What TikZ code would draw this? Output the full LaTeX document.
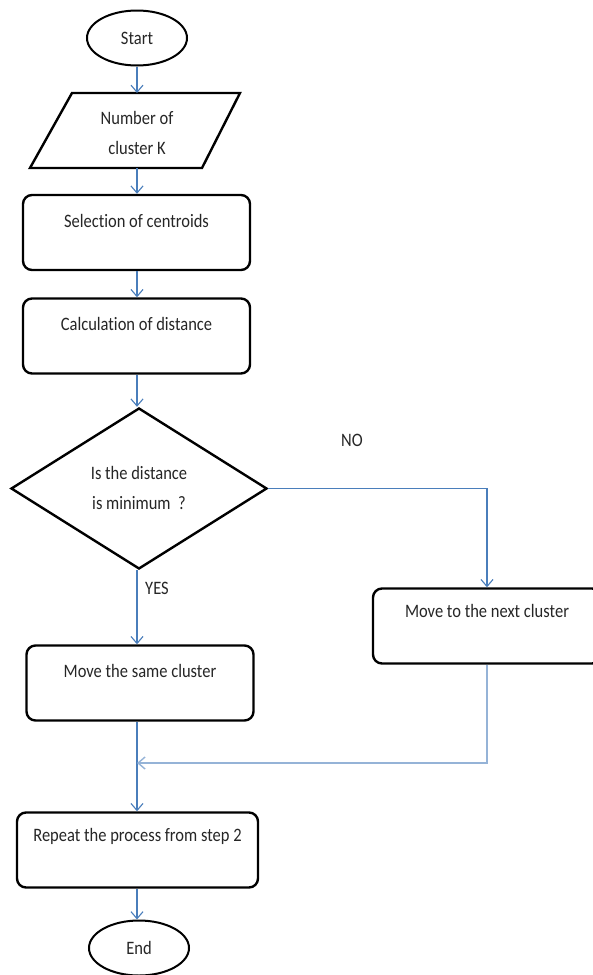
\documentclass[tikz,border=0pt]{standalone}
\usepackage{fontspec}
\setmainfont{Carlito}[Ligatures=NoCommon]
\usetikzlibrary{shapes.geometric,arrows.meta}
\definecolor{conn}{HTML}{4A7EBB}
\definecolor{connlight}{HTML}{95B3D7}
\definecolor{txtc}{HTML}{262626}
\newcommand\vsc[1]{\scalebox{1}[1.15]{#1}}
\tikzset{
  proc/.style={draw=black, line width=2.4pt, rounded corners=9pt, minimum width=227pt, minimum height=75pt, inner sep=0pt},
  term/.style={draw=black, line width=2pt, ellipse, minimum width=100pt, minimum height=55pt, inner sep=0pt, text=txtc},
  txt/.style={text=txtc, inner sep=0pt, align=center, font=\fontsize{16.5}{30}\selectfont},
  lbl/.style={text=txtc, inner sep=0pt, font=\fontsize{16.5}{20}\selectfont},
  flow/.style={draw=conn, line width=1.1pt, -{Straight Barb[length=7pt,width=12pt,line width=1.1pt]}},
  flowlight/.style={draw=connlight, line width=1.4pt, -{Straight Barb[length=7pt,width=12pt,line width=1.4pt]}},
}
\begin{document}
\begin{tikzpicture}[x=1pt,y=-1pt]
\useasboundingbox (0,0) rectangle (592,975);
\fill[white] (0,0) rectangle (592,975);

% Start
\node[term, font=\fontsize{16.5}{20}\selectfont] (start) at (137,38) {\vsc{Start}};

% parallelogram
\coordinate (ptl) at (72,93);
\coordinate (ptr) at (240,93);
\coordinate (pbr) at (202,168);
\coordinate (pbl) at (30,168);
\draw[line width=2.4pt, line join=miter] (ptl) -- (ptr) -- (pbr) -- (pbl) -- cycle;
\coordinate (ptop) at (137,93);
\coordinate (pbot) at (137,168);
\node[txt] (ptext) at (137,133) {\vsc{Number of}\\\vsc{cluster K}};

% process boxes
\node[proc] (s1) at (136.5,232.5) {};
\node[txt] (t1) at ([yshift=-27pt]s1.north) {\vsc{Selection of centroids}};
\node[proc] (s2) at (136.5,336) {};
\node[txt] (t2) at ([yshift=-27pt]s2.north) {\vsc{Calculation of distance}};

% decision
\node[draw=black, line width=2.4pt, diamond, minimum width=256pt, minimum height=161pt, inner sep=0pt] (dia) at (139,488.5) {};
\node[txt] (dt) at (139,488) {\vsc{Is the distance}\\\vsc{is minimum\ \ ?}};

\node[lbl] (no) at (352,440) {\vsc{NO}};
\node[lbl] (yes) at (157,588) {\vsc{YES}};

\node[proc] (same) at (140,683) {};
\node[txt] (t3) at ([yshift=-27pt]same.north) {\vsc{Move the same cluster}};

\node[proc, minimum width=228pt] (next) at (487,626) {};
\node[txt] (t4) at ([yshift=-24pt]next.north) {\vsc{Move to the\ next cluster}};

\coordinate (j) at (137,763);

\node[proc, minimum width=241pt] (rep) at (137.5,850) {};
\node[txt] (t5) at ([yshift=-25pt]rep.north) {\vsc{Repeat the process from step 2}};

\node[term, font=\fontsize{16.5}{20}\selectfont] (end) at (139,948) {\vsc{End}};

% connectors
\draw[flow] (start.south) -- (ptop);
\draw[flow] (pbot) -- (s1.north -| pbot);
\draw[flow] (s1.south -| pbot) -- (s2.north -| pbot);
\draw[flow] (s2.south -| pbot) -- (dia.north -| pbot);
\draw[flow] (dia.east) -| (next.north);
\draw[flow] (dia.south -| pbot) -- (same.north -| pbot);
\draw[flow] (same.south -| pbot) -- (rep.north -| pbot);
\draw[flowlight] (next.south) |- (j);
\draw[flow] (rep.south -| pbot) -- (end.north -| pbot);
\end{tikzpicture}
\end{document}
